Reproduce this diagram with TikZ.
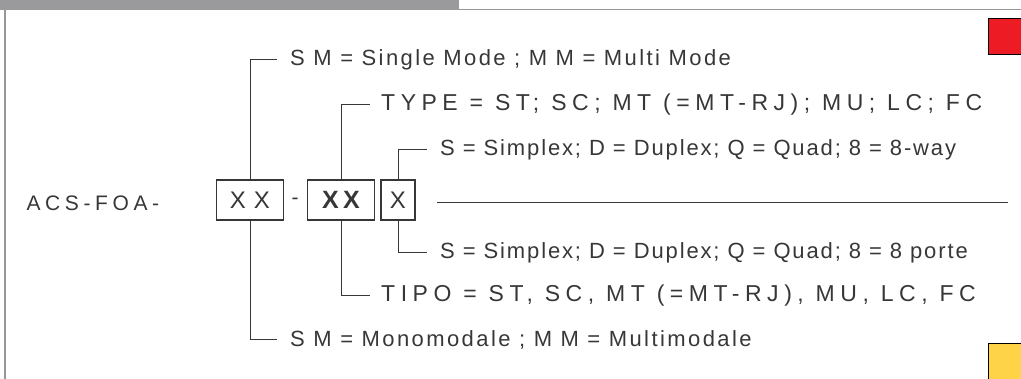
\documentclass[tikz,border=0pt]{standalone}
\usepackage{fontspec}
\setmainfont{Liberation Sans}
\usetikzlibrary{positioning}
\definecolor{headgray}{RGB}{154,154,156}
\definecolor{rulegray}{RGB}{150,150,150}
\definecolor{inkgray}{RGB}{55,55,55}
\definecolor{tagred}{RGB}{237,28,36}
\definecolor{tagyellow}{RGB}{255,211,72}

\begin{document}
\begin{tikzpicture}[x=1pt, y=-1pt,
  codebox/.style={rectangle, draw=inkgray, line width=1.2pt, minimum width=67pt, minimum height=40pt, inner sep=0pt, text=inkgray, font=\fontsize{24}{26}\selectfont},
  legend/.style={anchor=west, inner xsep=13pt, inner ysep=0pt, text=inkgray, font=\fontsize{22}{24}\selectfont\addfontfeature{LetterSpace=8.5}},
  modeline/.style={legend, font=\fontsize{22}{24}\selectfont\addfontfeature{LetterSpace=11}},
  typeline/.style={legend, inner xsep=11pt, font=\fontsize{23}{26}\selectfont\addfontfeature{LetterSpace=24}},
  wire/.style={draw=inkgray, line width=1pt}
]
\useasboundingbox (0,0) rectangle (1021,379);

% page frame
\fill[headgray] (0,0) rectangle (459,10);
\draw[rulegray, line width=1pt] (459,10) -- (1021,10);
\draw[rulegray, line width=1.5pt] (5,10) -- (5,379);
\fill[tagred] (988,18) rectangle (1021,54);
\draw[black, line width=0.8pt] (1021,18) -- (988,18) -- (988,54) -- (1021,54);
\fill[tagyellow] (988,343) rectangle (1021,379);
\draw[black, line width=0.8pt] (1021,343) -- (988,343) -- (988,379);

% code
\node[anchor=west, text=inkgray, font=\fontsize{21}{24}\selectfont\addfontfeature{LetterSpace=22}] (prefix) at (23,203) {ACS-FOA-};
\node[codebox] (fiber) at (250,200) {X\,\,X};
\node[text=inkgray, font=\fontsize{21}{24}\selectfont] (dash) at (295,201) {-};
\node[codebox, font=\fontsize{25}{26}\selectfont\bfseries] (conn) at (341,200) {X\,X};
\node[codebox, minimum width=34pt] (ports) at (398,200) {X};

% english
\node[modeline] (modeEN) at (277,60) {S M = Single Mode ; M M = Multi Mode};
\node[typeline] (typeEN) at (370,105) {TYPE = ST; SC; MT (=MT-RJ); MU; LC; FC};
\node[legend] (waysEN) at (427,150) {S = Simplex; D = Duplex; Q = Quad; 8 = 8-way};

% italian
\node[legend] (waysIT) at (427,253) {S = Simplex; D = Duplex; Q = Quad; 8 = 8 porte};
\node[typeline] (typeIT) at (370,296) {TIPO = ST, SC, MT (=MT-RJ), MU, LC, FC};
\node[modeline] (modeIT) at (277,340) {S M = Monomodale ; M M = Multimodale};

\coordinate (ruleL) at (437,203);
\coordinate (ruleR) at (1008,203);

\draw[wire] (fiber.north) |- (modeEN.west);
\draw[wire] (conn.north) |- (typeEN.west);
\draw[wire] (ports.north) |- (waysEN.west);
\draw[wire] (ports.south) |- (waysIT.west);
\draw[wire] (conn.south) |- (typeIT.west);
\draw[wire] (fiber.south) |- (modeIT.west);
\draw[wire] (ruleL) -- (ruleR);
\end{tikzpicture}
\end{document}
